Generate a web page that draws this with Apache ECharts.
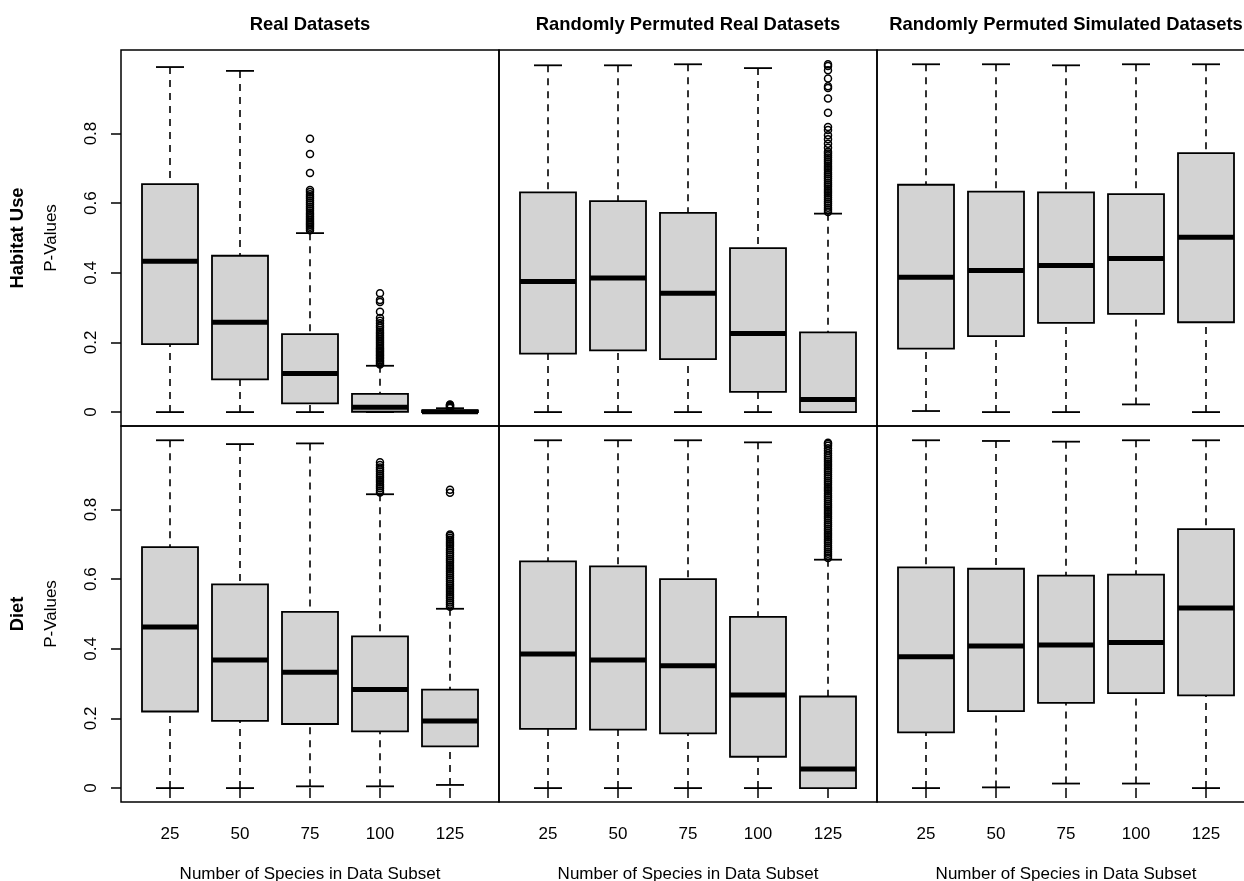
<!DOCTYPE html>
<html><head><meta charset="utf-8">
<script src="https://cdn.jsdelivr.net/npm/echarts@6/dist/echarts.min.js"></script>
<style>html,body{margin:0;padding:0;background:#fff}#c{width:1244px;height:881px}</style>
</head><body><div id="c"></div>
<script>
const categories = ['25', '50', '75', '100', '125'];
const colTitles = ['Real Datasets', 'Randomly Permuted Real Datasets', 'Randomly Permuted Simulated Datasets'];
const rowLabels = ['Habitat Use', 'Diet'];
const yAxisTitle = 'P-Values';
const xAxisTitle = 'Number of Species in Data Subset';
const yTicks = [0, 0.2, 0.4, 0.6, 0.8];

// box statistics per category: [lower whisker, Q1, median, Q3, upper whisker]
const habitatReal = [
  [0, 0.195, 0.433, 0.655, 0.991],
  [0, 0.094, 0.258, 0.449, 0.980],
  [0, 0.025, 0.111, 0.224, 0.514],
  [0, 0.001, 0.0135, 0.052, 0.133],
  [0, 0, 0.001, 0.005, 0.011]
];
const habitatRealOut = [
  [],
  [],
  [0.522, 0.527, 0.532, 0.537, 0.542, 0.547, 0.552, 0.557, 0.562, 0.567, 0.572, 0.578, 0.584, 0.59, 0.596, 0.602, 0.608, 0.614, 0.62, 0.626, 0.632, 0.638, 0.687, 0.741, 0.785],
  [0.137, 0.141, 0.145, 0.149, 0.153, 0.157, 0.161, 0.165, 0.169, 0.173, 0.177, 0.181, 0.185, 0.19, 0.195, 0.2, 0.205, 0.21, 0.215, 0.22, 0.225, 0.23, 0.236, 0.242, 0.248, 0.255, 0.262, 0.27, 0.288, 0.316, 0.322, 0.341],
  [0.012, 0.014, 0.016, 0.018, 0.020, 0.022]
];
const habitatPermReal = [
  [0, 0.168, 0.375, 0.631, 0.996],
  [0, 0.177, 0.385, 0.606, 0.996],
  [0, 0.152, 0.341, 0.572, 0.999],
  [0, 0.058, 0.226, 0.471, 0.988],
  [0, 0, 0.036, 0.229, 0.570]
];
const habitatPermRealOut = [
  [], [], [], [],
  [0.575, 0.581, 0.587, 0.593, 0.599, 0.605, 0.611, 0.617, 0.623, 0.629, 0.635, 0.641, 0.647, 0.653, 0.659, 0.665, 0.671, 0.677, 0.683, 0.689, 0.695, 0.701, 0.707, 0.713, 0.719, 0.725, 0.731, 0.737, 0.743, 0.748, 0.759, 0.771, 0.784, 0.795, 0.81, 0.819, 0.86, 0.901, 0.931, 0.936, 0.958, 0.982, 0.994, 0.999]
];
const habitatSim = [
  [0.003, 0.182, 0.387, 0.653, 0.999],
  [0, 0.218, 0.407, 0.633, 0.999],
  [0, 0.256, 0.421, 0.631, 0.996],
  [0.022, 0.282, 0.441, 0.626, 0.999],
  [0, 0.258, 0.502, 0.744, 0.999]
];
const habitatSimOut = [[], [], [], [], []];
const dietReal = [
  [0, 0.220, 0.463, 0.692, 0.999],
  [0, 0.193, 0.368, 0.585, 0.988],
  [0.005, 0.184, 0.333, 0.506, 0.990],
  [0.005, 0.163, 0.283, 0.436, 0.844],
  [0.009, 0.120, 0.193, 0.283, 0.515]
];
const dietRealOut = [
  [], [], [],
  [0.849, 0.855, 0.861, 0.867, 0.873, 0.879, 0.885, 0.891, 0.897, 0.903, 0.909, 0.915, 0.921, 0.928, 0.936],
  [0.521, 0.527, 0.533, 0.539, 0.545, 0.551, 0.557, 0.563, 0.569, 0.575, 0.581, 0.587, 0.593, 0.599, 0.605, 0.611, 0.617, 0.623, 0.629, 0.635, 0.641, 0.647, 0.653, 0.659, 0.665, 0.671, 0.677, 0.683, 0.689, 0.695, 0.701, 0.707, 0.713, 0.719, 0.725, 0.728, 0.848, 0.857]
];
const dietPermReal = [
  [0, 0.170, 0.385, 0.651, 0.999],
  [0, 0.168, 0.368, 0.637, 0.999],
  [0, 0.157, 0.351, 0.600, 0.999],
  [0, 0.090, 0.267, 0.492, 0.993],
  [0, 0, 0.055, 0.263, 0.656]
];
const dietPermRealOut = [
  [], [], [], [],
  [0.661, 0.667, 0.673, 0.679, 0.685, 0.691, 0.697, 0.703, 0.709, 0.715, 0.721, 0.727, 0.733, 0.739, 0.745, 0.751, 0.757, 0.763, 0.769, 0.775, 0.781, 0.787, 0.793, 0.799, 0.805, 0.811, 0.817, 0.823, 0.829, 0.835, 0.841, 0.847, 0.853, 0.859, 0.865, 0.871, 0.877, 0.883, 0.889, 0.895, 0.901, 0.907, 0.913, 0.919, 0.925, 0.931, 0.937, 0.943, 0.949, 0.955, 0.962, 0.969, 0.976, 0.983, 0.988, 0.992]
];
const dietSim = [
  [0, 0.160, 0.377, 0.634, 0.999],
  [0.002, 0.221, 0.408, 0.630, 0.997],
  [0.013, 0.245, 0.411, 0.610, 0.995],
  [0.013, 0.273, 0.418, 0.613, 0.999],
  [0, 0.266, 0.517, 0.744, 0.999]
];
const dietSimOut = [[], [], [], [], []];

const panelStats = [
  [habitatReal, habitatPermReal, habitatSim],
  [dietReal, dietPermReal, dietSim]
];
const panelOut = [
  [habitatRealOut, habitatPermRealOut, habitatSimOut],
  [dietRealOut, dietPermRealOut, dietSimOut]
];

// ---- layout / styles ----
const FONT = 'Liberation Sans, Arial, Helvetica, sans-serif';
const colLeft = [121, 499, 877];
const colW = 378;
const rowTop = [50, 426];
const rowH = 376;
const xPos = categories.map((c, i) => i + 1);

function renderBox(params, api) {
  const x = api.value(0);
  const lo = api.coord([x, api.value(1)]);
  const q1 = api.coord([x, api.value(2)]);
  const md = api.coord([x, api.value(3)]);
  const q3 = api.coord([x, api.value(4)]);
  const hi = api.coord([x, api.value(5)]);
  const bw = api.size([0.8, 0])[0];
  const sw = api.size([0.4, 0])[0];
  const cx = lo[0];
  const dashed = { stroke: '#000', lineWidth: 1.6, lineDash: [7, 6] };
  const solid = { stroke: '#000', lineWidth: 1.8 };
  return {
    type: 'group',
    children: [
      { type: 'line', shape: { x1: cx, y1: hi[1], x2: cx, y2: q3[1] }, style: dashed },
      { type: 'line', shape: { x1: cx, y1: lo[1], x2: cx, y2: q1[1] }, style: dashed },
      { type: 'line', shape: { x1: cx - sw / 2, y1: hi[1], x2: cx + sw / 2, y2: hi[1] }, style: solid },
      { type: 'line', shape: { x1: cx - sw / 2, y1: lo[1], x2: cx + sw / 2, y2: lo[1] }, style: solid },
      { type: 'rect', shape: { x: cx - bw / 2, y: q3[1], width: bw, height: q1[1] - q3[1] },
        style: { fill: '#d3d3d3', stroke: '#000', lineWidth: 1.8 } },
      { type: 'line', shape: { x1: cx - bw / 2, y1: md[1], x2: cx + bw / 2, y2: md[1] },
        style: { stroke: '#000', lineWidth: 5 } }
    ]
  };
}

const grids = [], xAxes = [], yAxes = [], series = [];
for (let r = 0; r < 2; r++) {
  for (let c = 0; c < 3; c++) {
    const gi = grids.length;
    grids.push({
      left: colLeft[c], top: rowTop[r], width: colW, height: rowH,
      show: true, borderColor: '#000', borderWidth: 1.5, backgroundColor: 'transparent',
      outerBoundsMode: 'none', containLabel: false
    });
    xAxes.push({
      type: 'value', gridIndex: gi, min: 0.3, max: 5.7,
      splitLine: { show: false }, axisLine: { show: false },
      axisTick: { show: r === 1, customValues: xPos, length: 10, lineStyle: { color: '#000', width: 1.5 } },
      axisLabel: { show: r === 1, customValues: xPos, formatter: v => categories[Math.round(v) - 1],
        fontSize: 17, color: '#000', fontFamily: FONT, margin: 24 },
      name: r === 1 ? xAxisTitle : '', nameLocation: 'middle', nameGap: 64,
      nameTextStyle: { fontSize: 17, color: '#000', fontFamily: FONT }
    });
    yAxes.push({
      type: 'value', gridIndex: gi, min: -0.04, max: 1.04,
      splitLine: { show: false }, axisLine: { show: false },
      axisTick: { show: c === 0, customValues: yTicks, length: 10, lineStyle: { color: '#000', width: 1.5 } },
      axisLabel: { show: c === 0, customValues: yTicks, rotate: 90,
        formatter: v => String(Number(v.toFixed(1))),
        fontSize: 17, color: '#000', fontFamily: FONT, margin: 21 }
    });
    const stats = panelStats[r][c];
    series.push({
      type: 'custom', xAxisIndex: gi, yAxisIndex: gi, renderItem: renderBox,
      encode: { x: 0, y: [1, 2, 3, 4, 5] }, silent: true, z: 2,
      data: stats.map((s, i) => [xPos[i], s[0], s[1], s[2], s[3], s[4]])
    });
    const outs = panelOut[r][c];
    const pts = [];
    outs.forEach((arr, i) => arr.forEach(v => pts.push([xPos[i], v])));
    series.push({
      type: 'scatter', xAxisIndex: gi, yAxisIndex: gi, symbol: 'circle', symbolSize: 7, z: 3,
      silent: true,
      itemStyle: { color: 'rgba(0,0,0,0)', borderColor: '#000', borderWidth: 1.5, opacity: 1 },
      data: pts
    });
  }
}

const graphics = [];
colTitles.forEach((t, c) => {
  graphics.push({ type: 'text', x: colLeft[c] + colW / 2, y: 25,
    style: { text: t, font: 'bold 18.4px ' + FONT, fill: '#000', textAlign: 'center', textVerticalAlign: 'middle' } });
});
rowLabels.forEach((t, r) => {
  const cy = rowTop[r] + rowH / 2;
  graphics.push({ type: 'text', x: 18, y: cy, rotation: Math.PI / 2,
    style: { text: t, font: 'bold 18.4px ' + FONT, fill: '#000', textAlign: 'center', textVerticalAlign: 'middle' } });
  graphics.push({ type: 'text', x: 51, y: cy, rotation: Math.PI / 2,
    style: { text: yAxisTitle, font: '17px ' + FONT, fill: '#000', textAlign: 'center', textVerticalAlign: 'middle' } });
});

const chart = echarts.init(document.getElementById('c'), null, { renderer: 'canvas' });
chart.setOption({
  animation: false,
  backgroundColor: '#fff',
  grid: grids, xAxis: xAxes, yAxis: yAxes, series: series,
  graphic: graphics
});
</script>
</body></html>
